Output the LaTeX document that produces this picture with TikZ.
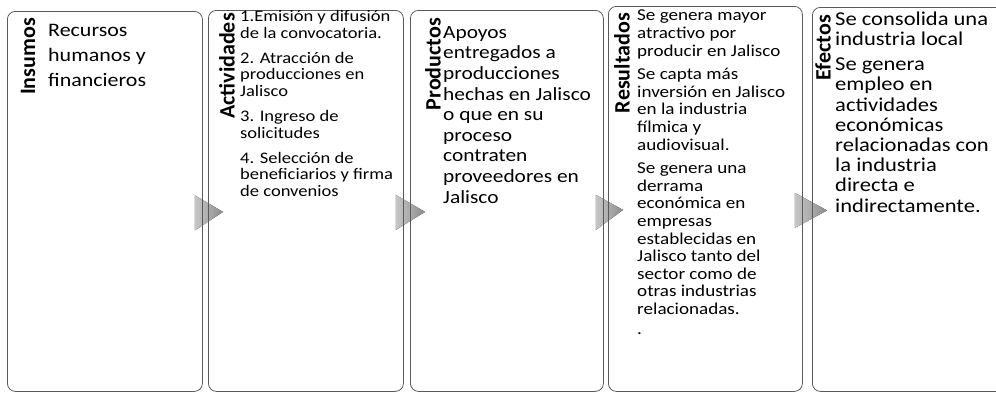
\documentclass[tikz,border=0pt]{standalone}
\usepackage{fontspec}
\setmainfont{Carlito}[FakeStretch=1.15]
\newfontfamily\rotulo{Carlito}
\usetikzlibrary{positioning,backgrounds}
\newcommand{\letra}[2]{\fontsize{#1}{#2}\selectfont\lineskiplimit=-40pt\relax}

\begin{document}
\begin{tikzpicture}[x=1pt,y=1pt,
panel/.style={draw=black!65,line width=0.8pt,rounded corners=8pt,minimum width=195pt,anchor=north west,inner sep=0pt},
titulo/.style={rotate=90,anchor=east,inner sep=0pt,font=\rotulo\letra{22pt}{24pt}\bfseries},
texto/.style={anchor=base west,align=left,inner sep=0pt},
flecha/.style={left color=black!22,right color=black!45,draw=none}]
\useasboundingbox (0,0) rectangle (996,-394);
\clip (0,0) rectangle (996,-394);
\node[panel,minimum height=380pt] (insumos) at (7,-11) {};
\node[panel,minimum height=381pt] (actividades) at (208,-10) {};
\node[panel,minimum height=381pt,minimum width=193pt] (productos) at (410,-10) {};
\node[panel,minimum height=385pt,minimum width=194pt] (resultados) at (608,-6) {};
\node[panel,minimum height=384pt] (efectos) at (812,-7) {};
\node[titulo] (tinsumos) at ([xshift=21pt,yshift=-7pt]insumos.north west) {Insumos};
\node[titulo] (tactividades) at ([xshift=19pt,yshift=-3pt]actividades.north west) {Actividades};
\node[titulo] (tproductos) at ([xshift=23pt,yshift=-8pt]productos.north west) {Productos};
\node[titulo] (tresultados) at ([xshift=14pt,yshift=-7pt]resultados.north west) {Resultados};
\node[titulo] (tefectos) at ([xshift=11pt,yshift=-8pt]efectos.north west) {Efectos};
\node[texto,font=\letra{19.1pt}{25pt}] (cinsumos) at ([xshift=41pt,yshift=-75pt]insumos.north west) {Recursos\\humanos y\\financieros};
\node[texto,font=\letra{16.1pt}{16.6pt}] (cactividades) at ([xshift=32pt,yshift=-186.5pt]actividades.north west)
{1.Emisión y difusión\\de la convocatoria.\\[8.5pt]2. Atracción de\\producciones en\\Jalisco\\[8.5pt]3. Ingreso de\\solicitudes\\[8.5pt]4. Selección de\\beneficiarios y firma\\de convenios};
\node[texto,font=\letra{18.6pt}{20.6pt}] (cproductos) at ([xshift=33pt,yshift=-193pt]productos.north west)
{Apoyos\\entregados a\\producciones\\hechas en Jalisco\\o que en su\\proceso\\contraten\\proveedores en\\Jalisco};
\node[texto,font=\letra{16.6pt}{17.6pt}] (cresultados) at ([xshift=29pt,yshift=-328pt]resultados.north west)
{Se genera mayor\\atractivo por\\producir en Jalisco\\[6pt]Se capta más\\inversión en Jalisco\\en la industria\\fílmica y\\audiovisual.\\[6pt]Se genera una\\derrama\\económica en\\empresas\\establecidas en\\Jalisco tanto del\\sector como de\\otras industrias\\relacionadas.\\[2pt].};
\node[texto,font=\letra{19.6pt}{20.2pt}] (cefectos) at ([xshift=23pt,yshift=-205pt]efectos.north west)
{Se consolida una\\industria local\\[5pt]Se genera\\empleo en\\actividades\\económicas\\relacionadas con\\la industria\\directa e\\indirectamente.};
\begin{scope}[on background layer]
\foreach \a/\b in {insumos/actividades,actividades/productos,productos/resultados,resultados/efectos}
  \fill[flecha] ([xshift=-8pt,yshift=6pt]\a.east) -- ([xshift=15pt,yshift=-11pt]\b.west) -- ([xshift=-8pt,yshift=-29pt]\a.east) -- cycle;
\end{scope}
\end{tikzpicture}
\end{document}
